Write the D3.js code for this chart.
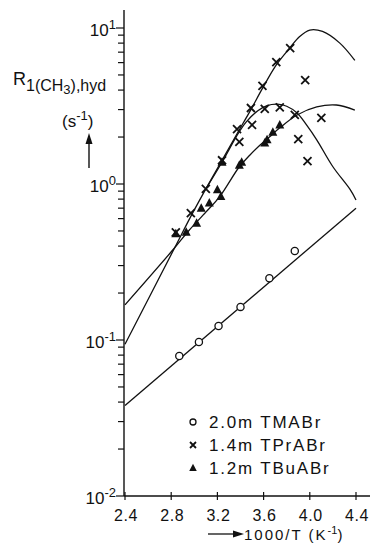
<!DOCTYPE html>
<html><head><meta charset="utf-8">
<script src="https://cdn.jsdelivr.net/npm/d3@7"></script>
<style>
body{margin:0;background:#fff}
svg{display:block}
text{font-family:"Liberation Sans",Arial,sans-serif;fill:#111}
</style>
</head><body>
<svg id="c" width="371" height="544"></svg>
<script>
// ---- data ----
const xTicks = [2.4, 2.8, 3.2, 3.6, 4.0, 4.4];
const xTickLabels = ["2.4", "2.8", "3.2", "3.6", "4.0", "4.4"];
const yDecades = [0.01, 0.1, 1, 10];
const yDecadeExp = ["-2", "-1", "0", "1"];
const seriesNames = ["2.0m TMABr", "1.4m TPrABr", "1.2m TBuABr"];

// 2.0 m TMABr (open circles)
const tmaX = [2.87, 3.04, 3.21, 3.40, 3.65, 3.87];
const tmaY = [0.079, 0.097, 0.123, 0.163, 0.249, 0.372];
// 1.4 m TPrABr (crosses)
const tprX = [2.84, 2.97, 3.10, 3.24, 3.37, 3.49, 3.59, 3.71, 3.83, 3.39, 3.50, 3.61, 3.74, 3.87, 3.96, 4.10, 3.90, 3.98];
const tprY = [0.49, 0.65, 0.93, 1.42, 2.25, 3.07, 4.25, 6.05, 7.44, 1.86, 2.39, 3.03, 3.10, 2.77, 4.64, 2.65, 1.94, 1.40];
// 1.2 m TBuABr (filled triangles)
const tbuX = [2.84, 2.93, 3.02, 3.06, 3.13, 3.20, 3.23, 3.24, 3.39, 3.41, 3.61, 3.63, 3.68, 3.74];
const tbuY = [0.48, 0.49, 0.56, 0.70, 0.755, 0.92, 0.83, 1.38, 1.32, 1.38, 1.83, 1.92, 2.15, 2.39];

// fitted curves
const fitTmaX = [2.4, 4.4];
const fitTmaY = [0.038, 0.70];
const fitTprX = [2.4, 2.83, 2.97, 3.10, 3.24, 3.37, 3.49, 3.59, 3.71, 3.83, 3.91, 4.00, 4.11, 4.26, 4.39];
const fitTprY = [0.094, 0.39, 0.62, 0.93, 1.42, 2.1, 3.0, 4.1, 5.8, 7.5, 8.8, 9.7, 9.5, 8.0, 6.2];
const fitTpr2X = [3.10, 3.25, 3.37, 3.45, 3.55, 3.63, 3.72, 3.80, 3.89, 3.97, 4.06, 4.20, 4.35, 4.40];
const fitTpr2Y = [0.93, 1.42, 2.05, 2.5, 2.95, 3.18, 3.25, 3.15, 2.85, 2.4, 1.92, 1.29, 0.92, 0.79];
const fitTbuX = [2.4, 2.83, 2.95, 3.10, 3.22, 3.39, 3.48, 3.57, 3.65, 3.74, 3.89, 4.06, 4.23, 4.39];
const fitTbuY = [0.168, 0.39, 0.50, 0.66, 0.83, 1.29, 1.53, 1.78, 2.0, 2.29, 2.77, 3.12, 3.21, 2.98];

// ---- drawing ----
const svg = d3.select("#c");
const x = d3.scaleLinear().domain([2.4, 4.4]).range([125, 356]);
const y = d3.scaleLog().domain([0.01, 10]).range([496, 28]);
const ink = "#111";

// axes lines
const axisX0 = 124;
svg.append("line").attr("x1", axisX0).attr("x2", axisX0).attr("y1", 10).attr("y2", y(0.01))
  .attr("stroke", ink).attr("stroke-width", 1.4);
svg.append("line").attr("x1", axisX0).attr("x2", 370).attr("y1", y(0.01)).attr("y2", y(0.01))
  .attr("stroke", ink).attr("stroke-width", 1.4);

// y ticks (log minor + major)
const yTickVals = [];
yDecades.forEach((d, i) => {
  if (i < yDecades.length - 1) for (let k = 1; k <= 9; k++) yTickVals.push(d * k);
  else yTickVals.push(d);
});
svg.selectAll(".yt").data(yTickVals).join("line")
  .attr("x1", v => yDecades.some(d => Math.abs(d - v) < 1e-9) ? axisX0 - 8 : axisX0 - 6)
  .attr("x2", axisX0)
  .attr("y1", v => y(v)).attr("y2", v => y(v))
  .attr("stroke", ink).attr("stroke-width", 1.2);

// y labels 10^n
yDecades.forEach((d, i) => {
  const t = svg.append("text").attr("x", 116).attr("y", y(d) + 8)
    .attr("text-anchor", "end").attr("font-size", 17);
  t.append("tspan").text("10");
  t.append("tspan").attr("dy", -7).attr("font-size", 13).text(yDecadeExp[i]);
});

// x ticks
svg.selectAll(".xt").data(xTicks).join("line")
  .attr("x1", v => x(v)).attr("x2", v => x(v))
  .attr("y1", y(0.01) - 4).attr("y2", y(0.01) + 4)
  .attr("stroke", ink).attr("stroke-width", 1.2);
svg.selectAll(".xl").data(xTicks).join("text")
  .attr("x", v => x(v) + 1).attr("y", 521)
  .attr("text-anchor", "middle").attr("font-size", 16).attr("letter-spacing", 0.6)
  .text((v, i) => xTickLabels[i]);

// x axis title with arrow
svg.append("line").attr("x1", 208).attr("x2", 236).attr("y1", 534).attr("y2", 534)
  .attr("stroke", ink).attr("stroke-width", 1.3);
svg.append("path").attr("d", "M244,534 L233,530.5 L233,537.5 Z").attr("fill", ink);
const xt = svg.append("text").attr("x", 244).attr("y", 540).attr("font-size", 15)
  .attr("letter-spacing", 2);
xt.append("tspan").text("1000/T (K");
xt.append("tspan").attr("dy", -6).attr("font-size", 11).attr("letter-spacing", 0).text("-1");
xt.append("tspan").attr("dy", 6).text(")");

// y axis title
const yt = svg.append("text").attr("x", 13).attr("y", 85).attr("font-size", 18);
yt.append("tspan").text("R");
yt.append("tspan").attr("dy", 6).attr("font-size", 16).text("1(CH");
yt.append("tspan").attr("dy", 3).attr("font-size", 13).text("3");
yt.append("tspan").attr("dy", -3).attr("font-size", 16).text("),hyd");

const yu = svg.append("text").attr("x", 62).attr("y", 127).attr("font-size", 17);
yu.append("tspan").text("(s");
yu.append("tspan").attr("dy", -7).attr("font-size", 13).text("-1");
yu.append("tspan").attr("dy", 7).text(")");
svg.append("line").attr("x1", 89).attr("x2", 89).attr("y1", 168).attr("y2", 141)
  .attr("stroke", ink).attr("stroke-width", 1.4);
svg.append("path").attr("d", "M89,133 L85.5,144 L92.5,144 Z").attr("fill", ink);

// fitted lines
const line = d3.line().x(d => x(d[0])).y(d => y(d[1])).curve(d3.curveCatmullRom.alpha(0.5));
const zip = (a, b) => a.map((v, i) => [v, b[i]]);
[[fitTmaX, fitTmaY], [fitTprX, fitTprY], [fitTpr2X, fitTpr2Y], [fitTbuX, fitTbuY]].forEach(([xs, ys]) => {
  svg.append("path").attr("d", line(zip(xs, ys))).attr("fill", "none")
    .attr("stroke", ink).attr("stroke-width", 1.3);
});

// markers
function circle(g, cx, cy, r) {
  g.append("circle").attr("cx", cx).attr("cy", cy).attr("r", r)
    .attr("fill", "#fff").attr("stroke", ink).attr("stroke-width", 1.3);
}
function cross(g, cx, cy, s) {
  g.append("path").attr("d", `M${cx - s},${cy - s}L${cx + s},${cy + s}M${cx - s},${cy + s}L${cx + s},${cy - s}`)
    .attr("stroke", ink).attr("stroke-width", 1.8).attr("fill", "none");
}
function tri(g, cx, cy, s) {
  g.append("path").attr("d", `M${cx},${cy - s}L${cx + s * 0.9},${cy + s * 0.7}L${cx - s * 0.9},${cy + s * 0.7}Z`)
    .attr("fill", ink);
}
const g = svg.append("g");
zip(tmaX, tmaY).forEach(d => circle(g, x(d[0]), y(d[1]), 3.6));
zip(tbuX, tbuY).forEach(d => tri(g, x(d[0]), y(d[1]), 5));
zip(tprX, tprY).forEach(d => cross(g, x(d[0]), y(d[1]), 4));

// legend
const ly = [422, 445, 468];
circle(g, 193, ly[0], 3);
cross(g, 193, ly[1], 3);
tri(g, 193, ly[2], 4.2);
seriesNames.forEach((n, i) => {
  svg.append("text").attr("x", 209).attr("y", ly[i] + 6).attr("font-size", 17)
    .attr("letter-spacing", 1.8).text(n);
});
</script>
</body></html>
